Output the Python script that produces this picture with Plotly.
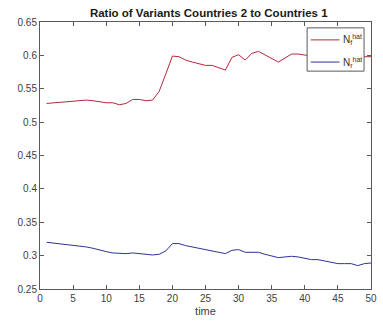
import plotly.graph_objects as go

# time steps
time = list(range(1, 51))

# ratio estimates for the two variants
n_f_hat = [0.528, 0.529, 0.530, 0.531, 0.532, 0.533, 0.533, 0.532, 0.530, 0.529,
           0.529, 0.526, 0.528, 0.534, 0.534, 0.532, 0.533, 0.546, 0.572, 0.599,
           0.598, 0.593, 0.590, 0.587, 0.585, 0.585, 0.581, 0.578, 0.597, 0.601,
           0.593, 0.603, 0.606, 0.601, 0.596, 0.590, 0.596, 0.602, 0.602, 0.601,
           0.599, 0.597, 0.598, 0.599, 0.598, 0.597, 0.598, 0.598, 0.597, 0.598]

n_r_hat = [0.320, 0.319, 0.317, 0.316, 0.315, 0.314, 0.313, 0.311, 0.308, 0.306,
           0.304, 0.303, 0.303, 0.304, 0.303, 0.301, 0.301, 0.302, 0.307, 0.318,
           0.318, 0.315, 0.313, 0.311, 0.309, 0.308, 0.306, 0.303, 0.308, 0.309,
           0.305, 0.305, 0.305, 0.302, 0.299, 0.297, 0.298, 0.299, 0.298, 0.296,
           0.294, 0.294, 0.292, 0.290, 0.288, 0.288, 0.288, 0.285, 0.288, 0.289]

series_names = ["N<sub>f</sub><sup>hat</sup>", "N<sub>r</sub><sup>hat</sup>"]
series_colors = ["#b3283c", "#2d3590"]

x_ticks = [0, 5, 10, 15, 20, 25, 30, 35, 40, 45, 50]
y_ticks = [0.25, 0.3, 0.35, 0.4, 0.45, 0.5, 0.55, 0.6, 0.65]
y_tick_text = ["0.25", "0.3", "0.35", "0.4", "0.45", "0.5", "0.55", "0.6", "0.65"]

font_family = "Liberation Sans, Arial, sans-serif"
axis_color = "#5a5a5a"

fig = go.Figure()
for values, name, color in zip([n_f_hat, n_r_hat], series_names, series_colors):
    fig.add_trace(go.Scatter(x=time, y=values, mode="lines", name=name,
                             line=dict(color=color, width=1), showlegend=False))

# compact boxed legend in the upper right corner of the axes
fig.add_shape(type="rect", xref="paper", yref="paper",
              x0=0.807, x1=0.979, y0=0.816, y1=0.978,
              line=dict(color=axis_color, width=1), fillcolor="white", layer="above")
for name, color, ly in zip(series_names, series_colors, [0.933, 0.850]):
    fig.add_shape(type="line", xref="paper", yref="paper",
                  x0=0.818, x1=0.905, y0=ly, y1=ly,
                  line=dict(color=color, width=1), layer="above")
    fig.add_annotation(xref="paper", yref="paper", x=0.91, y=ly,
                       xanchor="left", yanchor="middle", text=name, showarrow=False,
                       font=dict(family=font_family, size=10, color="#303030"))

axis_common = dict(
    showline=True, linecolor=axis_color, linewidth=1, mirror="ticks",
    ticks="inside", ticklen=4, tickcolor=axis_color, showgrid=False,
    zeroline=False, tickfont=dict(family=font_family, size=10, color="#404040"),
)

fig.update_layout(
    width=383, height=324,
    margin=dict(l=40, r=6, t=22, b=35),
    paper_bgcolor="white", plot_bgcolor="white",
    title=dict(text="<b>Ratio of Variants Countries 2 to Countries 1</b>",
               x=0.545, xanchor="center", y=0.96, yanchor="middle",
               font=dict(family=font_family, size=11.5, color="#1a1a1a")),
    xaxis=dict(range=[0, 50], tickvals=x_ticks,
               title=dict(text="time", standoff=4,
                          font=dict(family=font_family, size=11, color="#404040")),
               **axis_common),
    yaxis=dict(range=[0.25, 0.65], tickvals=y_ticks, ticktext=y_tick_text,
               **axis_common),
    showlegend=False,
)

fig.write_html("out.html")
